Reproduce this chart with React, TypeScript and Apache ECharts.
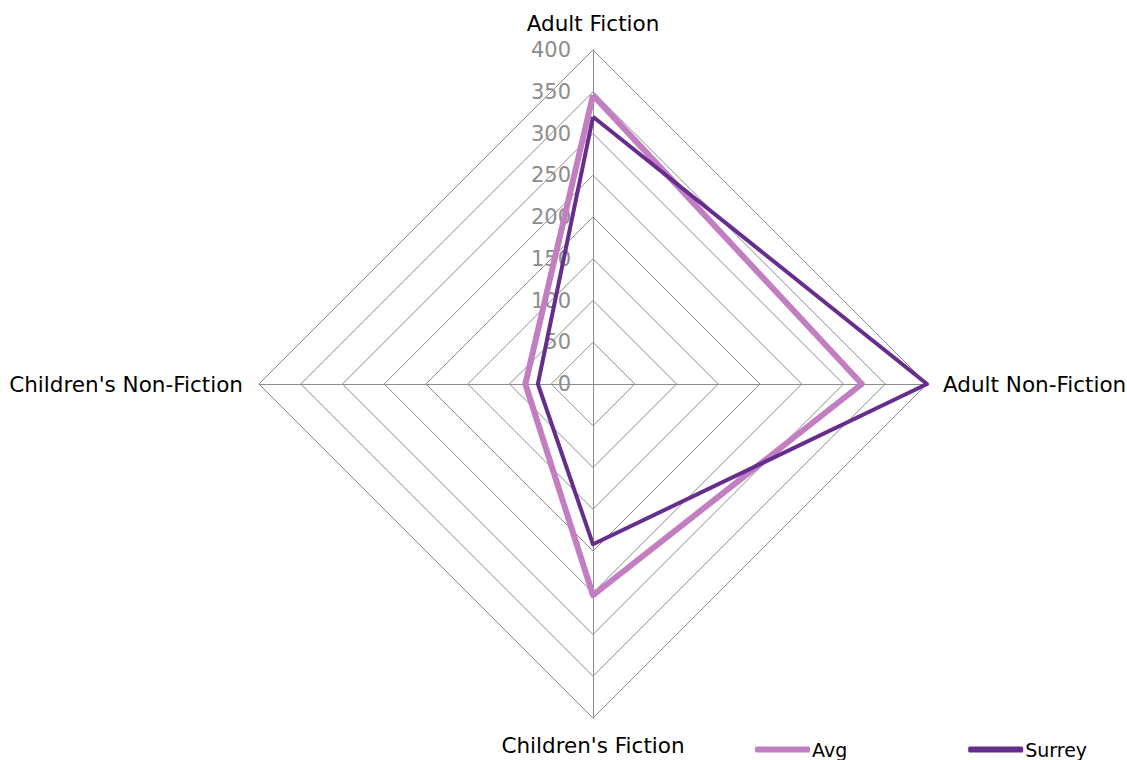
import React, { useEffect, useRef } from "react";
import * as echarts from "echarts";

const categories = ["Adult Fiction", "Adult Non-Fiction", "Children's Fiction", "Children's Non-Fiction"];
const avgValues = [346, 322, 253, 81];
const surreyValues = [320, 400, 192, 66];
const axisMax = 400;
const axisSplits = 8;

// ECharts lays radar indicators counter-clockwise; the reference goes clockwise.
const order = [0, 3, 2, 1];

export default function App() {
  const ref = useRef<HTMLDivElement>(null);
  useEffect(() => {
    document.body.style.margin = "0";
    const chart = echarts.init(ref.current!, null, { renderer: "svg" });
    const font = "DejaVu Sans, Verdana, sans-serif";
    chart.setOption({
      animation: false,
      backgroundColor: "#ffffff",
      legend: {
        left: 750,
        top: 735,
        itemWidth: 55,
        itemHeight: 6,
        itemGap: 121,
        icon: "roundRect",
        textStyle: { fontFamily: font, fontSize: 19, color: "#000", padding: [0, 0, 0, -3] },
        data: ["Avg", "Surrey"],
      },
      radar: {
        center: [593, 384],
        radius: 334,
        shape: "polygon",
        splitNumber: axisSplits,
        startAngle: 90,
        nameGap: 16,
        axisName: { color: "#000", fontFamily: font, fontSize: 21.5 },
        splitLine: { lineStyle: { color: "#8c8c8c", width: 1 } },
        splitArea: { show: false },
        axisLine: { lineStyle: { color: "#8c8c8c", width: 1 } },
        axisTick: { show: false },
        axisLabel: { show: false, color: "#8c8c8c", fontFamily: font, fontSize: 20 },
        indicator: order.map((i) => ({
          name: categories[i],
          min: 0,
          max: axisMax,
          axisLabel:
            i === 0
              ? { show: true, color: "#8c8c8c", fontFamily: font, fontSize: 21, margin: 22 }
              : { show: false },
        })),
      },
      series: [
        {
          type: "radar",
          symbol: "none",
          data: [
            {
              name: "Avg",
              value: order.map((i) => avgValues[i]),
              lineStyle: { color: "#c27ec0", width: 6 },
              itemStyle: { color: "#c27ec0" },
            },
            {
              name: "Surrey",
              value: order.map((i) => surreyValues[i]),
              lineStyle: { color: "#662d8c", width: 4 },
              itemStyle: { color: "#662d8c" },
            },
          ],
        },
      ],
    });
    return () => chart.dispose();
  }, []);
  return <div ref={ref} style={{ width: 1127, height: 760 }} />;
}
